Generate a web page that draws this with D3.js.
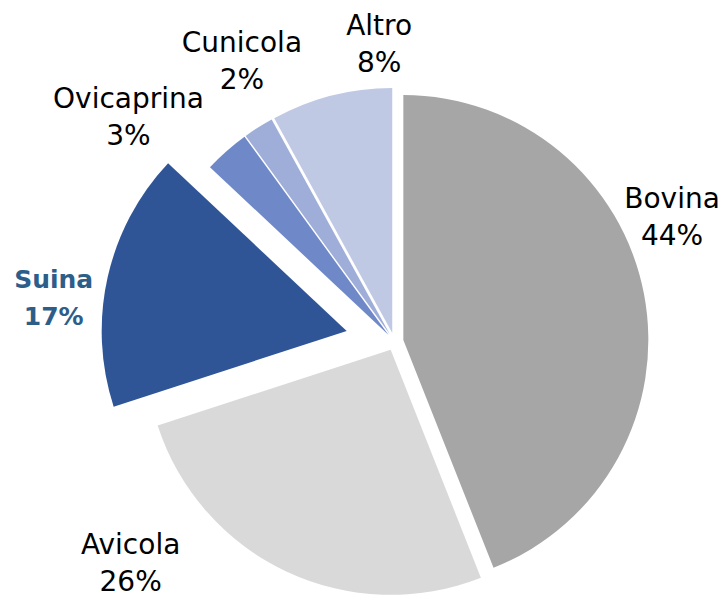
<!DOCTYPE html>
<html><head><meta charset="utf-8">
<script src="https://cdn.jsdelivr.net/npm/d3@7"></script>
<style>html,body{margin:0;padding:0;background:#fff;} svg{display:block;}</style>
</head><body>
<script>
// ---- data ----
const categories = ["Bovina", "Avicola", "Suina", "Ovicaprina", "Cunicola", "Altro"];
const values = [44, 26, 17, 3, 2, 8];
const colors = ["#A6A6A6", "#D9D9D9", "#2F5597", "#6E88C8", "#9EAED9", "#BFC9E4"];

// ---- layout (not data) ----
const W = 722, H = 603;
const cx = 394.5, cy = 341.7, R = 245;
const explodeDefault = 9, explodeMap = { Suina: 49 };
// label placement: [angle delta (deg) from slice mid, distance from exploded slice center]
const labelPlace = {
  Bovina: [-13.9, 295.8], Avicola: [25.5, 336], Suina: [-5.9, 295],
  Ovicaprina: [-8.6, 339.5], Cunicola: [4, 310.7], Altro: [11.8, 290]
};
const highlight = { Suina: { fill: "#2D5E8A", weight: "bold", size: 25 } };

const total = d3.sum(values);
const pct = d3.format(".0%");
const data = categories.map((c, i) => ({ name: c, value: values[i], color: colors[i] }));

const svg = d3.select("body").append("svg").attr("width", W).attr("height", H);
svg.append("rect").attr("width", W).attr("height", H).attr("fill", "#fff");

const pie = d3.pie().sort(null).value(d => d.value).startAngle(0).endAngle(2 * Math.PI);
const arc = d3.arc().innerRadius(0).outerRadius(R);
const arcs = pie(data);

const g = svg.append("g").attr("transform", `translate(${cx},${cy})`);

arcs.forEach(a => {
  const mid = (a.startAngle + a.endAngle) / 2;
  const e = explodeMap[a.data.name] ?? explodeDefault;
  a.ox = e * Math.sin(mid);
  a.oy = -e * Math.cos(mid);
  a.mid = mid;
});

g.selectAll("path.slice").data(arcs).join("path")
  .attr("class", "slice")
  .attr("d", arc)
  .attr("transform", d => `translate(${d.ox},${d.oy})`)
  .attr("fill", d => d.data.color);

const lineH = 37;
g.selectAll("text.lbl").data(arcs).join("text")
  .attr("class", "lbl")
  .attr("text-anchor", "middle")
  .attr("font-family", "'DejaVu Sans', sans-serif")
  .attr("font-size", d => (highlight[d.data.name]?.size ?? 28) + "px")
  .attr("font-weight", d => highlight[d.data.name]?.weight ?? "normal")
  .attr("fill", d => highlight[d.data.name]?.fill ?? "#000")
  .each(function (d) {
    const [dA, dist] = labelPlace[d.data.name];
    const ang = d.mid + dA * Math.PI / 180;
    const x = d.ox + dist * Math.sin(ang);
    const y = d.oy - dist * Math.cos(ang);
    const t = d3.select(this);
    t.append("tspan").attr("x", x).attr("y", y - 8.5).text(d.data.name);
    t.append("tspan").attr("x", x).attr("y", y - 8.5 + lineH).text(pct(d.data.value / total));
  });
</script>
</body></html>
